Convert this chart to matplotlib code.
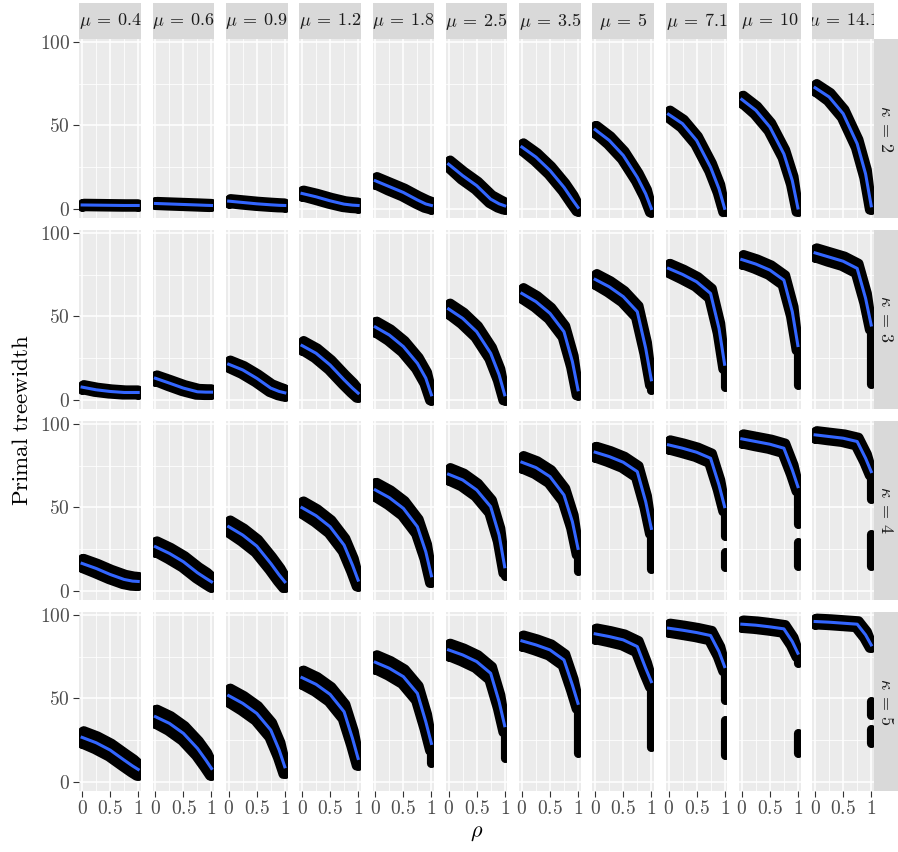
import numpy as np
import matplotlib
matplotlib.use("Agg")
import matplotlib.pyplot as plt

plt.rcParams['mathtext.fontset'] = 'cm'
plt.rcParams['font.family'] = ['DejaVu Serif']

# ---------------- data ----------------
mus = ["0.4", "0.6", "0.9", "1.2", "1.8", "2.5", "3.5", "5", "7.1", "10", "14.1"]
kappas = ["2", "3", "4", "5"]
rho = [0.0, 0.25, 0.5, 0.75, 0.9, 1.0]

# smooth (blue) curve values at rho, one list per mu
smooth_k2 = [
    [2.3, 2.2, 2.1, 2.0, 2.0, 2.0],
    [3.2, 2.9, 2.6, 2.3, 2.1, 2.0],
    [4.6, 3.8, 3.0, 2.4, 2.1, 2.0],
    [9.2, 7.2, 4.8, 2.8, 2.2, 2.0],
    [16.8, 13.3, 9.8, 5.3, 2.9, 2.0],
    [26.7, 19.9, 13.9, 5.8, 3.0, 1.8],
    [37.0, 31.0, 23.0, 12.9, 5.5, 0.8],
    [47.4, 41.0, 32.0, 18.9, 9.0, 0.2],
    [56.6, 51.0, 41.0, 24.9, 12.0, 0.3],
    [65.5, 59.0, 49.0, 32.9, 16.9, 0.5],
    [72.5, 67.0, 57.0, 39.0, 20.9, 1.8],
]
smooth_k3 = [
    [7.6, 6.0, 5.0, 4.4, 4.4, 4.4],
    [12.9, 10.0, 7.0, 4.8, 4.6, 4.6],
    [21.3, 17.9, 12.9, 7.0, 5.0, 4.2],
    [32.5, 27.9, 20.9, 12.0, 7.0, 4.0],
    [43.6, 38.8, 31.9, 21.9, 13.0, 3.0],
    [54.4, 48.8, 40.8, 27.9, 15.0, 3.0],
    [63.7, 58.8, 51.8, 40.8, 22.9, 6.0],
    [72.1, 67.7, 61.8, 52.8, 30.9, 12.0],
    [78.7, 75.1, 70.7, 63.7, 42.8, 21.3],
    [84.0, 81.3, 77.7, 71.7, 52.8, 32.5],
    [88.0, 85.5, 83.0, 78.7, 60.8, 44.8],
]
smooth_k4 = [
    [16.4, 13.4, 9.8, 6.8, 5.8, 5.6],
    [26.4, 22.4, 17.4, 10.8, 7.5, 5.4],
    [38.4, 33.4, 26.8, 16.4, 9.5, 5.4],
    [49.8, 45.0, 38.4, 27.4, 15.4, 6.4],
    [60.4, 55.8, 49.4, 38.4, 23.4, 9.0],
    [69.8, 66.4, 60.4, 50.4, 33.4, 14.4],
    [77.0, 73.8, 68.4, 57.4, 41.4, 25.4],
    [83.0, 80.4, 77.0, 71.4, 53.4, 37.4],
    [87.4, 85.4, 83.0, 79.4, 63.4, 50.4],
    [91.0, 89.4, 87.8, 85.4, 72.4, 62.4],
    [93.4, 92.4, 91.4, 89.4, 79.4, 71.4],
]
smooth_k5 = [
    [26.6, 23.4, 19.0, 13.0, 9.5, 7.4],
    [39.0, 35.0, 29.0, 20.0, 13.0, 8.0],
    [51.6, 47.0, 41.0, 31.0, 19.0, 9.0],
    [62.4, 58.4, 52.4, 42.0, 26.0, 14.0],
    [71.6, 68.0, 63.0, 53.0, 36.0, 23.0],
    [79.0, 76.0, 72.0, 65.0, 48.0, 33.6],
    [84.4, 82.0, 79.0, 73.0, 58.0, 47.0],
    [88.6, 87.0, 85.0, 81.0, 68.0, 60.0],
    [92.0, 90.8, 89.4, 87.6, 78.0, 69.0],
    [94.4, 93.8, 92.8, 91.6, 84.0, 77.0],
    [96.0, 95.6, 95.0, 94.4, 88.0, 82.0],
]

# half-spread of the point cloud around the smooth, per mu
spread_k2 = [1.0, 1.2, 1.5, 2.0, 2.5, 2.5, 2.5, 2.5, 2.5, 2.5, 2.5]
spread_k3 = [1.5, 2.0, 2.5, 3.0, 3.5, 3.5, 3.5, 3.5, 3.0, 3.0, 3.0]
spread_k4 = [3.0, 3.5, 4.0, 4.0, 4.5, 4.0, 4.0, 3.5, 3.0, 3.0, 2.5]
spread_k5 = [4.0, 4.5, 4.5, 4.5, 4.5, 4.0, 3.5, 3.5, 3.0, 2.5, 2.0]

# runs of points stacked at rho = 1 (lowest, highest), per mu
tails_k2 = [[] for _ in range(11)]
tails_k3 = [[], [], [], [], [], [], [], [(6, 12)], [(7.5, 21)], [(9, 32)], [(9.5, 45)]]
tails_k4 = [[], [], [], [], [], [(9, 14)], [(12, 25)], [(13, 37)],
            [(33, 50), (14, 23)], [(40, 62), (15, 29)], [(55, 71), (15, 34)]]
tails_k5 = [[], [], [], [(10, 14)], [(11, 23)], [(14, 33)], [(17, 46)], [(21, 60)],
            [(48.7, 68), (16, 37)], [(71, 76), (40.5, 40.5), (17, 29)],
            [(40, 48.5), (23, 31.5)]]

smooth_all = [smooth_k2, smooth_k3, smooth_k4, smooth_k5]
spread_all = [spread_k2, spread_k3, spread_k4, spread_k5]
tails_all = [tails_k2, tails_k3, tails_k4, tails_k5]

x_ticks = [0, 0.5, 1]
x_ticklabels = ["$0$", "$0.5$", "$1$"]
y_ticks = [0, 50, 100]
y_ticklabels = ["$0$", "$50$", "$100$"]

# ---------------- layout ----------------
W, H = 898, 852
fig = plt.figure(figsize=(W / 100, H / 100), dpi=100)
fig.patch.set_facecolor("white")


def rect(x0, y0, w, h):
    return [x0 / W, 1 - (y0 + h) / H, w / W, h / H]


col_left = [79.3 + 73.3 * i for i in range(11)]
row_top = [39 + 191 * j for j in range(4)]
pw, ph = 61.7, 179
MS = 6.6   # point diameter in pt
HX = 0.03  # horizontal spread of the cloud (rho units)
BLUE = "#3366FF"

for j in range(4):
    for i in range(11):
        ax = fig.add_axes(rect(col_left[i], row_top[j], pw, ph))
        ax.set_facecolor("#EBEBEB")
        ax.set_xlim(-0.05, 1.05)
        ax.set_ylim(-5.5, 101.7)
        for s in ax.spines.values():
            s.set_visible(False)
        ax.set_xticks(x_ticks)
        ax.set_xticks([0.25, 0.75], minor=True)
        ax.set_yticks(y_ticks)
        ax.set_yticks([25, 75], minor=True)
        ax.grid(which="major", color="white", lw=1.1)
        ax.grid(which="minor", color="white", lw=0.55)
        ax.set_axisbelow(True)
        ax.tick_params(which="minor", length=0)
        ax.tick_params(which="major", color="#333333", length=4.2, width=0.8,
                       labelsize=14, labelcolor="#4D4D4D", pad=2.5)
        if j == 3:
            ax.set_xticklabels(x_ticklabels)
        else:
            ax.tick_params(axis="x", which="both", length=0, labelbottom=False)
        if i == 0:
            ax.set_yticklabels(y_ticklabels)
        else:
            ax.tick_params(axis="y", which="both", length=0, labelleft=False)

        y = np.array(smooth_all[j][i])
        sp = spread_all[j][i]
        r = np.array(rho)
        xu, yu = np.clip(r + HX, 0, 1), y + sp
        xl, yl = np.clip(r - HX, 0, 1), y - sp
        ax.fill(np.concatenate([xu, xl[::-1]]), np.concatenate([yu, yl[::-1]]),
                color="black", lw=0, zorder=2)
        ax.plot(xu, yu, color="black", lw=MS, solid_capstyle="round",
                solid_joinstyle="round", zorder=2)
        ax.plot(xl, yl, color="black", lw=MS, solid_capstyle="round",
                solid_joinstyle="round", zorder=2)
        for xe, a, b in ((0.0, yl[0], yu[0]), (1.0, yl[-1], yu[-1])):
            ax.plot([xe, xe], [a, b], color="black", lw=MS,
                    solid_capstyle="round", zorder=2)
        for a, b in tails_all[j][i]:
            ax.plot([1, 1], [a, b], color="black", lw=MS,
                    solid_capstyle="round", zorder=2)
        ax.plot(r, y, color=BLUE, lw=2.2, zorder=3)

# top strips
for i in range(11):
    sax = fig.add_axes(rect(col_left[i], 3.3, pw, 39 - 3.3))
    sax.set_facecolor("#D9D9D9")
    sax.set_xticks([]); sax.set_yticks([])
    for s in sax.spines.values():
        s.set_visible(False)
    t = sax.text(0.5, 0.5, r"$\mu\:=\:%s$" % mus[i], ha="center", va="center",
                 fontsize=13, color="#1A1A1A", transform=sax.transAxes)
    t.set_clip_on(True)
    t.set_clip_path(sax.patch)

# right strips
for j in range(4):
    sax = fig.add_axes(rect(874, row_top[j], 24, ph))
    sax.set_facecolor("#D9D9D9")
    sax.set_xticks([]); sax.set_yticks([])
    for s in sax.spines.values():
        s.set_visible(False)
    sax.text(0.5, 0.5, r"$\kappa\:=\:%s$" % kappas[j], ha="center", va="center",
             rotation=-90, fontsize=13, color="#1A1A1A", transform=sax.transAxes)

fig.text(22 / W, 1 - 420 / H, r"$\mathrm{Primal\ treewidth}$", rotation=90,
         ha="center", va="center", fontsize=16.5, color="black")
fig.text(476.6 / W, 1 - 832 / H, r"$\rho$", ha="center", va="center",
         fontsize=16, color="black")

fig.savefig("out.png", dpi=100)
